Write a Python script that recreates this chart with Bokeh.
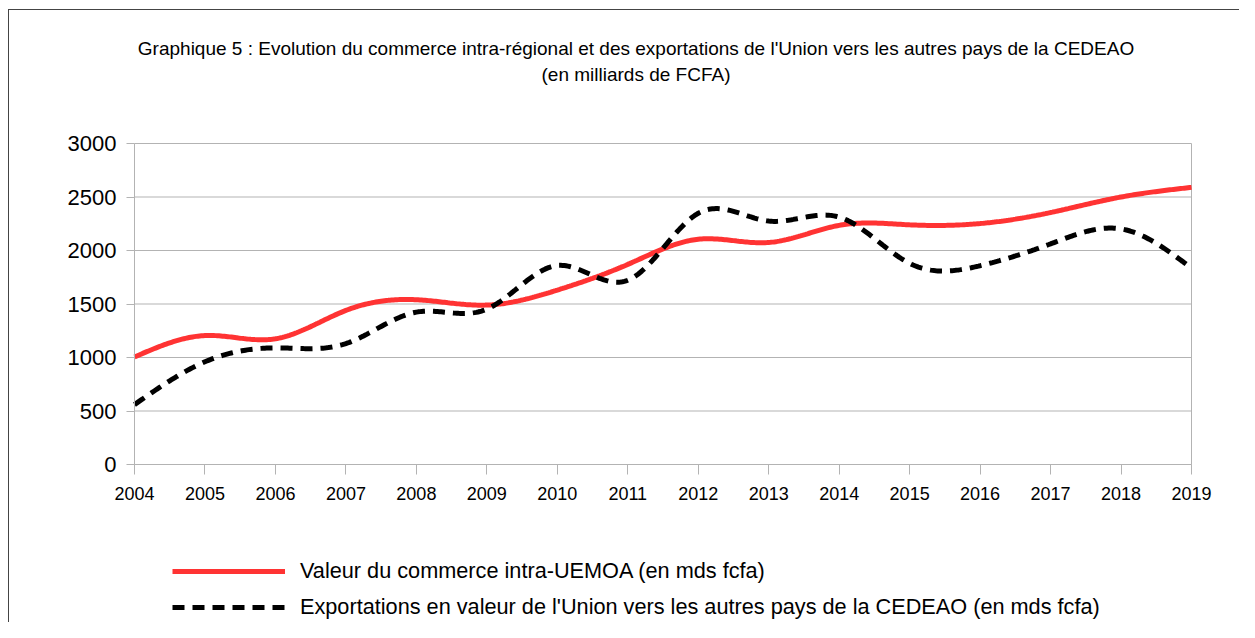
import numpy as np
from bokeh.plotting import figure
from bokeh.models import Range1d, Legend, LegendItem, Label, FixedTicker
from bokeh.embed import file_html
from bokeh.resources import INLINE

years = [2004, 2005, 2006, 2007, 2008, 2009, 2010, 2011, 2012, 2013, 2014, 2015, 2016, 2017, 2018, 2019]
intra_uemoa = [1005, 1205, 1175, 1440, 1540, 1490, 1630, 1870, 2105, 2075, 2235, 2240, 2252, 2355, 2500, 2590]
exports_cedeao = [560, 960, 1090, 1130, 1424, 1452, 1860, 1722, 2348, 2275, 2312, 1880, 1858, 2062, 2202, 1835]
y_ticks = [0, 500, 1000, 1500, 2000, 2500, 3000]

title_line1 = "Graphique 5 : Evolution du commerce intra-régional et des exportations de l'Union vers les autres pays de la CEDEAO"
title_line2 = "(en milliards de FCFA)"
label_intra = "Valeur du commerce intra-UEMOA (en mds fcfa)"
label_export = "Exportations en valeur de l'Union vers les autres pays de la CEDEAO (en mds fcfa)"

FONT = "Liberation Sans"
GRID = "#b3b3b3"

# canvas layout (px): plot area x 134..1191, y 143 (3000) .. 464 (0); canvas 1239 x 622
W, H = 1239, 622
PLOT_L, PLOT_R, PLOT_T, PLOT_B = 134, 1191, 143, 464
FRAME_L = 10
PX_PER_Y = (PLOT_B - PLOT_T) / 3000.0
PX_PER_X = (PLOT_R - PLOT_L) / 15.0
Y_TOP = 3000 + PLOT_T / PX_PER_Y
Y_BOTTOM = -(H - PLOT_B) / PX_PER_Y
X_LEFT = 2004 - (PLOT_L - FRAME_L) / PX_PER_X
X_RIGHT = 2019 + (W - PLOT_R) / PX_PER_X


def natural_spline(xs, ys, n=40):
    x = np.asarray(xs, float)
    y = np.asarray(ys, float)
    N = len(x)
    h = np.diff(x)
    A = np.zeros((N, N))
    b = np.zeros(N)
    A[0, 0] = 1
    A[-1, -1] = 1
    for i in range(1, N - 1):
        A[i, i - 1] = h[i - 1]
        A[i, i] = 2 * (h[i - 1] + h[i])
        A[i, i + 1] = h[i]
        b[i] = 6 * ((y[i + 1] - y[i]) / h[i] - (y[i] - y[i - 1]) / h[i - 1])
    M = np.linalg.solve(A, b)
    ox, oy = [], []
    for i in range(N - 1):
        t = np.linspace(x[i], x[i + 1], n, endpoint=(i == N - 2))
        hi = h[i]
        s = (M[i] * (x[i + 1] - t) ** 3 / (6 * hi) + M[i + 1] * (t - x[i]) ** 3 / (6 * hi)
             + (y[i] / hi - M[i] * hi / 6) * (x[i + 1] - t) + (y[i + 1] / hi - M[i + 1] * hi / 6) * (t - x[i]))
        ox.extend(t.tolist())
        oy.extend(s.tolist())
    return ox, oy


p = figure(width=W, height=H, output_backend="svg", toolbar_location=None,
           x_range=Range1d(X_LEFT, X_RIGHT), y_range=Range1d(Y_BOTTOM, Y_TOP),
           min_border_left=FRAME_L, min_border_right=0, min_border_top=0, min_border_bottom=0)
p.styles = {"background": "linear-gradient(#444444,#444444) 8px 9px / 100% 1px no-repeat, "
                          "linear-gradient(#444444,#444444) 8px 9px / 1px 100% no-repeat, white"}
p.background_fill_alpha = 0
p.border_fill_alpha = 0
p.outline_line_color = None
p.xgrid.visible = False
p.ygrid.visible = False

# grid lines limited to the plot area, and the line closing it at the right
n_y = len(y_ticks)
p.segment(x0=[years[0]] * n_y, x1=[years[-1]] * n_y, y0=y_ticks, y1=y_ticks,
          line_color=GRID, line_width=1)
p.segment(x0=[years[-1]], x1=[years[-1]], y0=[y_ticks[0]], y1=[y_ticks[-1]],
          line_color=GRID, line_width=1)

p.yaxis.ticker = FixedTicker(ticks=y_ticks)
p.yaxis.bounds = (y_ticks[0], y_ticks[-1])
p.yaxis.fixed_location = years[0]
p.xaxis.ticker = FixedTicker(ticks=years)
p.xaxis.bounds = (years[0], years[-1])
p.xaxis.fixed_location = 0
for ax in (p.xaxis[0], p.yaxis[0]):
    ax.axis_line_color = GRID
    ax.major_tick_line_color = GRID
    ax.major_tick_in = 0
    ax.minor_tick_line_color = None
    ax.major_label_text_color = "black"
    ax.major_label_text_font = FONT
p.yaxis.major_tick_out = 8
p.yaxis.major_label_text_font_size = "22px"
p.yaxis.major_label_standoff = 10
p.xaxis.major_tick_out = 10
p.xaxis.major_label_text_font_size = "18px"
p.xaxis.major_label_standoff = 12

sx1, sy1 = natural_spline(years, intra_uemoa)
sx2, sy2 = natural_spline(years, exports_cedeao)
r1 = p.line(sx1, sy1, line_color="#ff3333", line_width=5)
r2 = p.line(sx2, sy2, line_color="black", line_width=5, line_dash="12 8")

legend = Legend(items=[LegendItem(label=label_intra, renderers=[r1]),
                       LegendItem(label=label_export, renderers=[r2])],
                location=(172 - FRAME_L, 2), orientation="vertical",
                glyph_width=113, glyph_height=20, label_height=20, spacing=10,
                label_standoff=15, padding=0, margin=0,
                border_line_color=None, background_fill_alpha=0,
                label_text_font=FONT, label_text_font_size="21.7px", label_text_color="black")
p.add_layout(legend, "center")

x_mid = years[0] + (635.5 - PLOT_L) / PX_PER_X
p.add_layout(Label(x=x_mid, y=3000 + (PLOT_T - 48) / PX_PER_Y, text=title_line1,
                   text_align="center", text_baseline="middle",
                   text_font=FONT, text_font_size="19px", text_color="black"))
p.add_layout(Label(x=x_mid, y=3000 + (PLOT_T - 74) / PX_PER_Y, text=title_line2,
                   text_align="center", text_baseline="middle",
                   text_font=FONT, text_font_size="19px", text_color="black"))

open("out.html", "w").write(file_html(p, INLINE))
